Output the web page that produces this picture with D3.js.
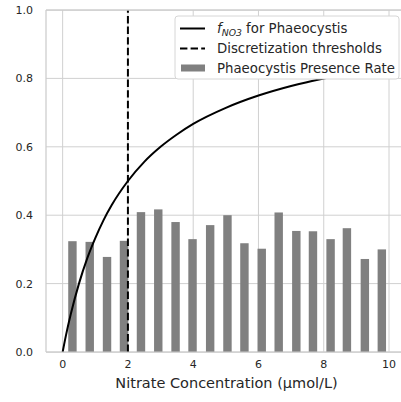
<!DOCTYPE html>
<html>
<head>
<meta charset="utf-8">
<script src="https://cdn.jsdelivr.net/npm/d3@7"></script>
<style>
  body { margin: 0; background: #fff; }
  svg { display: block; font-family: "DejaVu Sans", sans-serif; }
</style>
</head>
<body>
<div class="chart"></div>
<script>
// bin centres of the presence-rate bars (µmol/L)
const bin_centers = [0.30, 0.83, 1.36, 1.88, 2.40, 2.93, 3.46, 3.98, 4.52, 5.05,
    5.57, 6.10, 6.62, 7.16, 7.67, 8.21, 8.71, 9.26, 9.78]
const presence_rate = [0.324, 0.322, 0.278, 0.325, 0.409, 0.417, 0.380, 0.330, 0.371, 0.400,
    0.318, 0.302, 0.408, 0.354, 0.353, 0.330, 0.362, 0.272, 0.300]

// f_NO3 curve
const curve_x = [0, 0.1, 0.25, 0.5, 0.75, 1, 1.25, 1.5, 2, 2.5, 3, 3.5, 4, 5, 6, 7, 8, 9, 10]
const curve_y = [0, 0.048, 0.111, 0.2, 0.273, 0.333, 0.385, 0.429, 0.5, 0.556, 0.6, 0.636,
    0.667, 0.714, 0.75, 0.778, 0.8, 0.818, 0.833]

const thresholds = [2]
const x_ticks = [0, 2, 4, 6, 8, 10]
const y_ticks = [0, 0.2, 0.4, 0.6, 0.8, 1.0]

const ctx = {
    W: 401,
    H: 402,
    left: 46,
    right: 405,
    top: 10,
    bottom: 352,
}

function draw_chart() {
    const svg = d3.select(".chart").append("svg")
        .attr("width", ctx.W)
        .attr("height", ctx.H)

    const x = d3.scaleLinear().domain([-0.51, 10.49]).range([ctx.left, ctx.right])
    const y = d3.scaleLinear().domain([0, 1]).range([ctx.bottom, ctx.top])
    const grid_col = "#d0d0d0"

    // grid
    const grid = svg.append("g").attr("id", "grid")
    grid.selectAll("line.gx").data(x_ticks).enter().append("line")
        .attr("x1", d => x(d)).attr("x2", d => x(d))
        .attr("y1", ctx.top).attr("y2", ctx.bottom)
        .attr("stroke", grid_col).attr("stroke-width", 1)
    grid.selectAll("line.gy").data(y_ticks).enter().append("line")
        .attr("x1", ctx.left).attr("x2", ctx.right)
        .attr("y1", d => y(d)).attr("y2", d => y(d))
        .attr("stroke", grid_col).attr("stroke-width", 1)

    // bars
    const bar_w = 0.258
    svg.append("g").attr("id", "bars")
        .selectAll("rect")
        .data(bin_centers.map((c, i) => ({c: c, v: presence_rate[i]})))
        .enter()
        .append("rect")
        .attr("x", d => x(d.c - bar_w / 2))
        .attr("width", x(bar_w) - x(0))
        .attr("y", d => y(d.v))
        .attr("height", d => y(0) - y(d.v))
        .attr("fill", "#808080")

    // f_NO3 curve
    const line = d3.line()
        .x(d => x(d[0]))
        .y(d => y(d[1]))
        .curve(d3.curveMonotoneX)
    svg.append("path")
        .datum(curve_x.map((v, i) => [v, curve_y[i]]))
        .attr("d", line)
        .attr("fill", "none")
        .attr("stroke", "#000")
        .attr("stroke-width", 2)

    // thresholds
    svg.selectAll("line.thr").data(thresholds).enter().append("line")
        .attr("x1", d => x(d)).attr("x2", d => x(d))
        .attr("y1", ctx.bottom).attr("y2", ctx.top)
        .attr("stroke", "#000")
        .attr("stroke-width", 2)
        .attr("stroke-dasharray", "7.4,3.2")

    // spines
    const spines = svg.append("g").attr("id", "spines")
        .attr("stroke", "#cccccc").attr("stroke-width", 1.25)
    spines.append("line").attr("x1", ctx.left).attr("x2", ctx.left).attr("y1", ctx.top).attr("y2", ctx.bottom)
    spines.append("line").attr("x1", ctx.left).attr("x2", ctx.right).attr("y1", ctx.top).attr("y2", ctx.top)
    spines.append("line").attr("x1", ctx.left).attr("x2", ctx.right).attr("y1", ctx.bottom).attr("y2", ctx.bottom)

    // tick labels
    svg.append("g").selectAll("text").data(x_ticks).enter().append("text")
        .attr("x", d => x(d)).attr("y", 368)
        .attr("text-anchor", "middle")
        .attr("font-size", 11).attr("fill", "#262626")
        .text(d => d)
    svg.append("g").selectAll("text").data(y_ticks).enter().append("text")
        .attr("x", 33).attr("y", d => y(d) + 4)
        .attr("text-anchor", "end")
        .attr("font-size", 11).attr("fill", "#262626")
        .text(d => d3.format(".1f")(d))

    svg.append("text")
        .attr("x", (114 + 339) / 2).attr("y", 388)
        .attr("text-anchor", "middle")
        .attr("font-size", 14.5).attr("fill", "#262626")
        .text("Nitrate Concentration (μmol/L)")

    // legend
    const lg = svg.append("g").attr("id", "legend")
    lg.append("rect")
        .attr("x", 175).attr("y", 16)
        .attr("width", 224).attr("height", 63)
        .attr("rx", 3)
        .attr("fill", "#fff")
        .attr("stroke", "#d6d6d6").attr("stroke-width", 1)

    const rows = [28.5, 48.5, 68]
    const fs = 13.3
    lg.append("line").attr("x1", 180).attr("x2", 205).attr("y1", rows[0]).attr("y2", rows[0])
        .attr("stroke", "#000").attr("stroke-width", 2)
    lg.append("line").attr("x1", 180).attr("x2", 205).attr("y1", rows[1]).attr("y2", rows[1])
        .attr("stroke", "#000").attr("stroke-width", 2).attr("stroke-dasharray", "7.4,3.2")
    lg.append("rect").attr("x", 181).attr("y", rows[2] - 3.5).attr("width", 24).attr("height", 7)
        .attr("fill", "#808080")

    const t1 = lg.append("text").attr("x", 217).attr("y", rows[0] + 4.8)
        .attr("font-size", fs).attr("fill", "#262626")
    t1.append("tspan").attr("font-style", "italic").text("f")
    t1.append("tspan").attr("font-style", "italic").attr("font-size", 9.3).attr("dy", 2.8).text("NO3")
    t1.append("tspan").attr("dy", -2.8).text(" for Phaeocystis")

    lg.append("text").attr("x", 217).attr("y", rows[1] + 4.8)
        .attr("font-size", fs).attr("fill", "#262626")
        .text("Discretization thresholds")
    lg.append("text").attr("x", 217).attr("y", rows[2] + 4.8)
        .attr("font-size", fs).attr("fill", "#262626")
        .text("Phaeocystis Presence Rate")
}

draw_chart()
</script>
</body>
</html>
